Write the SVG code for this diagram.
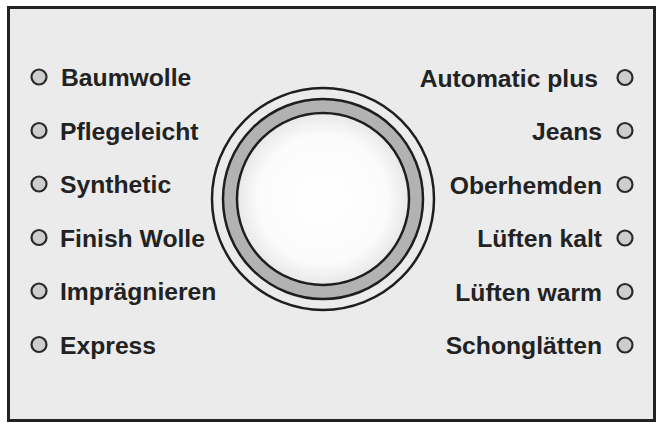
<svg xmlns="http://www.w3.org/2000/svg" width="659" height="423" viewBox="0 0 659 423">
  <style>
    .lbl { font-family: "Liberation Sans", Arial, sans-serif; font-size: 24.7px; font-weight: bold; fill: #222; }
    .r { text-anchor: end; }
    .led { fill: #cdcdcd; stroke: #2a2a2a; stroke-width: 2.2; }
    .ring { fill: none; stroke: #1e1e1e; stroke-width: 2.5; }
  </style>
  <defs>
    <radialGradient id="disk" cx="50%" cy="50%" r="50%">
      <stop offset="0%" stop-color="#ffffff"/>
      <stop offset="75%" stop-color="#fbfbfb"/>
      <stop offset="100%" stop-color="#e8e8e8"/>
    </radialGradient>
  </defs>
  <rect x="0" y="0" width="659" height="423" fill="#ffffff"/>
  <g id="panel">
    <rect x="8.5" y="7.5" width="646" height="413" fill="#ebebeb" stroke="#222" stroke-width="3"/>
  </g>
  <g id="knob">
    <circle cx="323" cy="199" r="111" class="ring"/>
    <circle cx="323" cy="199" r="93" fill="none" stroke="#b2b2b2" stroke-width="14"/>
    <circle cx="323" cy="199" r="100" class="ring"/>
    <circle cx="323" cy="199" r="86" fill="url(#disk)" stroke="#1e1e1e" stroke-width="2.5"/>
  </g>
  <g id="baumwolle"><circle cx="39" cy="77" r="7.5" class="led"/><text x="61" y="86" class="lbl">Baumwolle</text></g>
  <g id="pflegeleicht"><circle cx="39" cy="130.5" r="7.5" class="led"/><text x="60" y="139.5" class="lbl">Pflegeleicht</text></g>
  <g id="synthetic"><circle cx="39" cy="184" r="7.5" class="led"/><text x="60" y="193" class="lbl">Synthetic</text></g>
  <g id="finish-wolle"><circle cx="39" cy="237.5" r="7.5" class="led"/><text x="60" y="246.5" class="lbl">Finish Wolle</text></g>
  <g id="impraegnieren"><circle cx="39" cy="291" r="7.5" class="led"/><text x="60" y="300" class="lbl">Imprägnieren</text></g>
  <g id="express"><circle cx="39" cy="344.5" r="7.5" class="led"/><text x="60" y="353.5" class="lbl">Express</text></g>
  <g id="automatic-plus"><circle cx="625" cy="77.5" r="7.5" class="led"/><text x="598" y="86.5" class="lbl r">Automatic plus</text></g>
  <g id="jeans"><circle cx="625" cy="130.5" r="7.5" class="led"/><text x="602" y="139.5" class="lbl r">Jeans</text></g>
  <g id="oberhemden"><circle cx="625" cy="184.5" r="7.5" class="led"/><text x="602" y="193.5" class="lbl r">Oberhemden</text></g>
  <g id="lueften-kalt"><circle cx="625" cy="238" r="7.5" class="led"/><text x="602" y="247" class="lbl r">Lüften kalt</text></g>
  <g id="lueften-warm"><circle cx="625" cy="291.5" r="7.5" class="led"/><text x="602" y="300.5" class="lbl r">Lüften warm</text></g>
  <g id="schonglaetten"><circle cx="625" cy="345" r="7.5" class="led"/><text x="602" y="354" class="lbl r">Schonglätten</text></g>
</svg>
